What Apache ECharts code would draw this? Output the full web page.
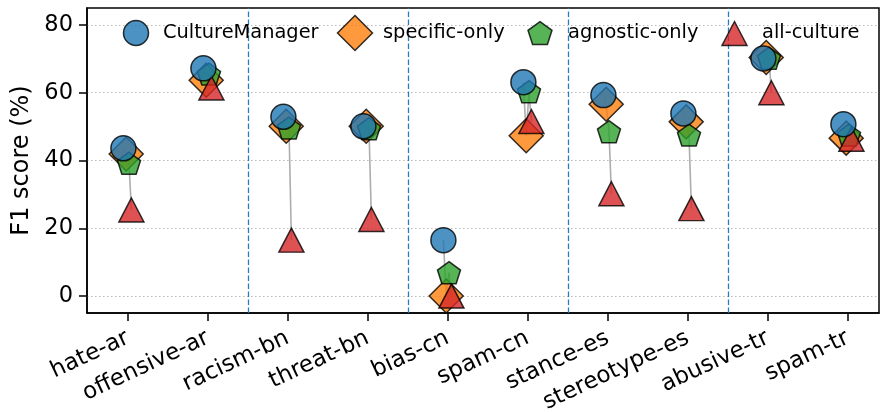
<!DOCTYPE html>
<html>
<head>
<meta charset="utf-8">
<script src="https://cdn.jsdelivr.net/npm/echarts@6/dist/echarts.min.js"></script>
<style>
html,body{margin:0;padding:0;background:#fff;}
#chart{width:881px;height:412px;}
</style>
</head>
<body>
<div id="chart"></div>
<script>
// ---- data ----
const categories = ['hate-ar','offensive-ar','racism-bn','threat-bn','bias-cn','spam-cn','stance-es','stereotype-es','abusive-tr','spam-tr'];
const cultureManager = [43.6, 67.2, 52.9, 50.1, 16.5, 63.1, 59.3, 53.9, 70.1, 50.7];
const specificOnly   = [41.9, 63.7, 50.1, 50.1, 0.0, 47.3, 56.6, 51.4, 70.4, 46.6];
const agnosticOnly   = [39.2, 65.5, 49.6, 49.4, 6.9, 60.3, 48.5, 47.5, 70.2, 47.5];
const allCulture     = [25.4, 61.4, 16.5, 22.6, 0.0, 51.5, 30.2, 25.8, 60.0, 46.3];
const yTicks = [0, 20, 40, 60, 80];
const separators = [1.5, 3.5, 5.5, 7.5];
const seriesNames = ['CultureManager', 'specific-only', 'agnostic-only', 'all-culture'];

// ---- styles ----
const FONT = '"DejaVu Sans", "Liberation Sans", sans-serif';
const colors = ['#1f77b4', '#ff7f0e', '#2ca02c', '#d62728'];
const offsets = [-0.055, -0.02, 0.015, 0.045];
const PENT = 'path://M0,-1L0.951,-0.309L0.588,0.809L-0.588,0.809L-0.951,-0.309Z';
const symbols = ['circle', 'diamond', PENT, 'triangle'];
const sizes = [25, 34, [23, 22], [25, 24]];
const zs = [6, 3, 4, 5];
const allData = [cultureManager, specificOnly, agnosticOnly, allCulture];

const series = [];
// connecting lines per category
categories.forEach((c, i) => {
  const s = {
    type: 'line',
    silent: true,
    z: 1,
    symbol: 'none',
    lineStyle: { color: '#999', width: 1.6, opacity: 0.8 },
    data: allData.map((arr, k) => [i + offsets[k], arr[i]]),
    animation: false
  };
  if (i === 0) {
    s.markLine = {
      silent: true,
      symbol: 'none',
      label: { show: false },
      lineStyle: { color: '#1f77b4', type: [5.5, 2.5], width: 1.3, opacity: 0.95 },
      data: separators.map(v => ({ xAxis: v })),
      animation: false
    };
  }
  series.push(s);
});
allData.forEach((arr, k) => {
  series.push({
    name: seriesNames[k],
    type: 'scatter',
    z: zs[k],
    silent: true,
    symbol: symbols[k],
    symbolSize: sizes[k],
    itemStyle: { color: colors[k], opacity: 0.8, borderColor: '#000', borderWidth: 1.5 },
    data: arr.map((v, i) => [i + offsets[k], v]),
    animation: false
  });
});

// legend drawn as graphic elements
const legStyle = (k) => ({ fill: colors[k], opacity: 0.8, stroke: '#000', lineWidth: 1.5 });
const legText = (x, t) => ({ type: 'text', x: x, y: 33, z: 100,
  style: { text: t, fontSize: 19.4, fontFamily: FONT, fill: '#000', verticalAlign: 'middle', align: 'left' } });
const graphic = [
  { type: 'circle', z: 100, shape: { cx: 136, cy: 33, r: 12.5 }, style: legStyle(0) },
  legText(163, seriesNames[0]),
  { type: 'polygon', z: 100, shape: { points: [[355, 15.5], [372.5, 33], [355, 50.5], [337.5, 33]] }, style: legStyle(1) },
  legText(383, seriesNames[1]),
  { type: 'polygon', z: 100, shape: { points: [[540, 21.6], [552, 30.3], [547.4, 44.4], [532.6, 44.4], [528, 30.3]] }, style: legStyle(2) },
  legText(568, seriesNames[2]),
  { type: 'polygon', z: 100, shape: { points: [[734.5, 21.5], [747, 45.5], [722, 45.5]] }, style: legStyle(3) },
  legText(762, seriesNames[3])
];

const chart = echarts.init(document.getElementById('chart'), null, { renderer: 'canvas' });
chart.setOption({
  animation: false,
  backgroundColor: '#fff',
  textStyle: { fontFamily: FONT },
  grid: { left: 87, right: 2, top: 8, bottom: 99, containLabel: false, outerBoundsMode: 'none',
    show: true, borderColor: '#000', borderWidth: 1.5, backgroundColor: 'transparent' },
  xAxis: {
    type: 'value',
    min: -0.51, max: 9.39,
    axisLine: { show: true, onZero: false, lineStyle: { color: '#000', width: 1.5 } },
    axisTick: { show: true, length: 8, lineStyle: { color: '#000', width: 1.5 }, customValues: categories.map((c, i) => i) },
    axisLabel: { customValues: categories.map((c, i) => i), formatter: v => categories[Math.round(v)],
      rotate: 25, fontSize: 23, color: '#000', fontFamily: FONT, margin: 24 },
    splitLine: { show: false }
  },
  yAxis: {
    type: 'value',
    min: -5, max: 85,
    name: 'F1 score (%)',
    nameLocation: 'middle',
    nameGap: 51,
    nameTextStyle: { fontSize: 24, color: '#000', fontFamily: FONT },
    axisLine: { show: true, onZero: false, lineStyle: { color: '#000', width: 1.5 } },
    axisTick: { show: true, length: 8, lineStyle: { color: '#000', width: 1.5 }, customValues: yTicks },
    axisLabel: { customValues: yTicks, fontSize: 22.5, color: '#000', fontFamily: FONT, margin: 14 },
    splitLine: { show: true, lineStyle: { color: '#bbb', type: [1.5, 2.5], width: 1 } }
  },
  graphic: graphic,
  series: series
});
</script>
</body>
</html>
